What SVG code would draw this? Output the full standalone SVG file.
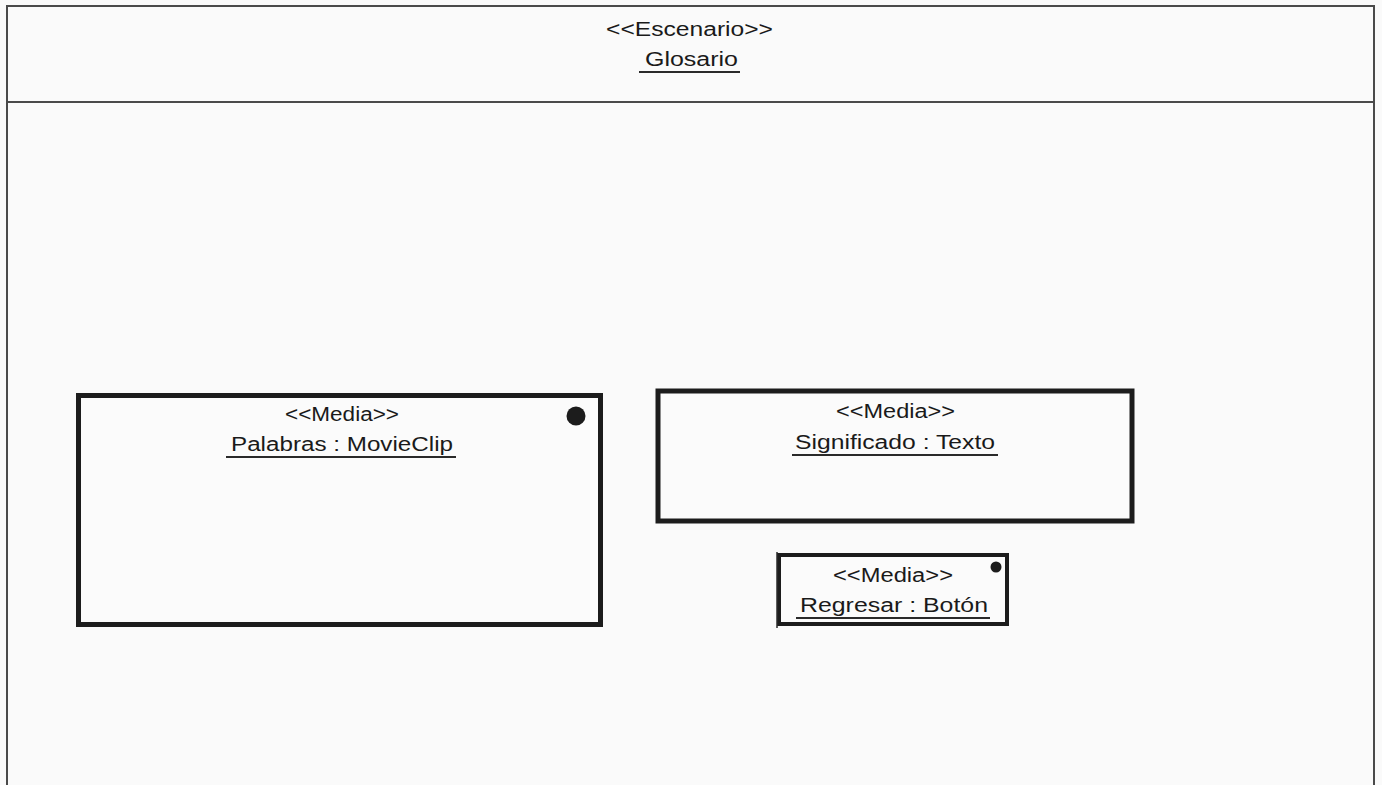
<svg xmlns="http://www.w3.org/2000/svg" width="1382" height="785" viewBox="0 0 1382 785">
<style>
.frame{fill:none;stroke:#4a4a4a;stroke-width:2}
.box{fill:#fbfbfb;stroke:#1c1c1c;stroke-width:5}
.t{font-family:"Liberation Sans",Arial,sans-serif;font-size:20px;fill:#1a1a1a}
.ul{stroke:#2a2a2a;stroke-width:2}
.dot{fill:#1c1c1c}
</style>
<rect x="0" y="0" width="1382" height="785" fill="#fafafa"/>
<g id="scenario">
<path class="frame" d="M7,785 V6 H1374 V785"/>
<line class="frame" x1="7" y1="102" x2="1374" y2="102"/>
<text class="t" x="606" y="36" textLength="167" lengthAdjust="spacingAndGlyphs">&lt;&lt;Escenario&gt;&gt;</text>
<text class="t" x="645" y="66" textLength="93" lengthAdjust="spacingAndGlyphs">Glosario</text>
<line class="ul" x1="639" y1="72" x2="740" y2="72"/>
</g>
<g id="palabras">
<rect class="box" x="78.5" y="395.5" width="522" height="229"/>
<circle class="dot" cx="576" cy="416" r="9.5"/>
<text class="t" x="285" y="421" textLength="114" lengthAdjust="spacingAndGlyphs">&lt;&lt;Media&gt;&gt;</text>
<text class="t" x="231" y="451" textLength="222" lengthAdjust="spacingAndGlyphs">Palabras : MovieClip</text>
<line class="ul" x1="226" y1="457" x2="456" y2="457"/>
</g>
<g id="significado">
<rect class="box" x="658" y="391" width="474" height="130"/>
<text class="t" x="836" y="418" textLength="119" lengthAdjust="spacingAndGlyphs">&lt;&lt;Media&gt;&gt;</text>
<text class="t" x="795" y="449" textLength="200" lengthAdjust="spacingAndGlyphs">Significado : Texto</text>
<line class="ul" x1="792" y1="455" x2="998" y2="455"/>
</g>
<g id="regresar">
<rect class="box" x="779" y="555" width="228" height="69" style="stroke-width:4"/>
<line class="ul" x1="777" y1="552" x2="777" y2="628" style="stroke-width:1.5"/>
<circle class="dot" cx="996" cy="567" r="5.5"/>
<text class="t" x="833" y="582" textLength="120" lengthAdjust="spacingAndGlyphs">&lt;&lt;Media&gt;&gt;</text>
<text class="t" x="800" y="612" textLength="188" lengthAdjust="spacingAndGlyphs">Regresar : Botón</text>
<line class="ul" x1="796" y1="618" x2="990" y2="618"/>
</g>
<g id="connectors"></g>
</svg>
